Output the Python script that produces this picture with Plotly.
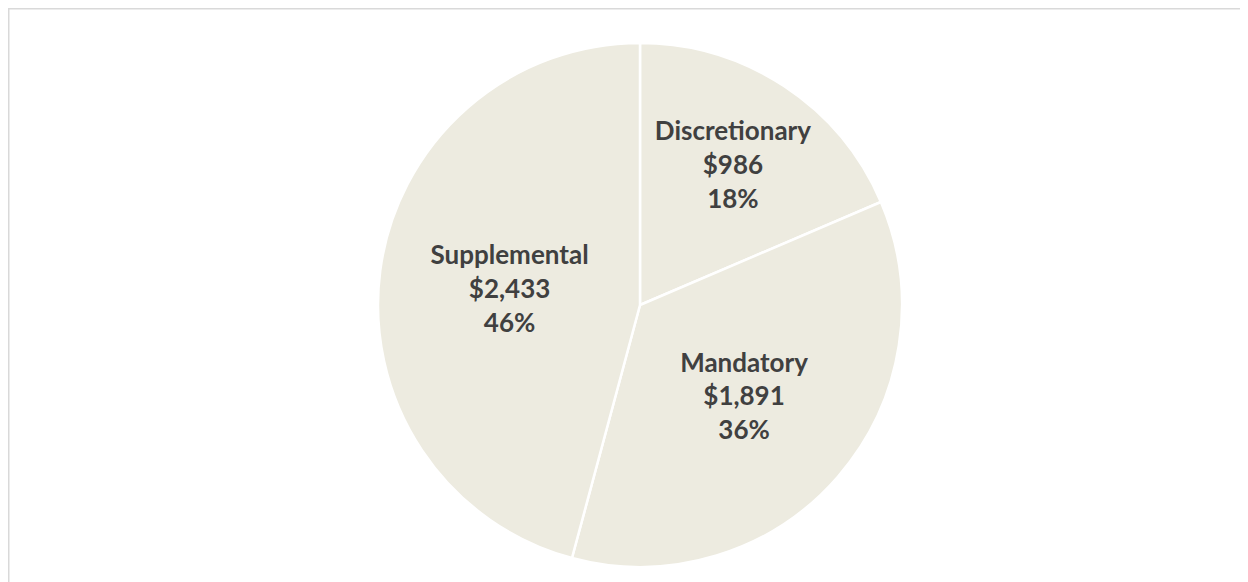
import plotly.graph_objects as go

categories = ["Discretionary", "Mandatory", "Supplemental"]
values = [986, 1891, 2433]
pct_labels = ["18%", "36%", "46%"]

W, H = 1248, 582
# page body margin of 8px shifts everything; compensate
top, bottom = 43 - 8, H - 567 + 8
R = 262
cx = 640 - 8
dom_x0 = (cx - R) / W
dom_x1 = (cx + R) / W
plot_h = H - top - bottom

fig = go.Figure(go.Pie(
    labels=categories,
    values=values,
    customdata=pct_labels,
    sort=False,
    direction="clockwise",
    rotation=0,
    texttemplate="%{label}<br>$%{value:,}<br>%{customdata}",
    textposition="inside",
    insidetextorientation="horizontal",
    textfont=dict(family="Lato", size=26, color="#404040", weight="bold"),
    marker=dict(colors=["#EDEBE0"] * 3, line=dict(color="white", width=2.5)),
    showlegend=False,
    hoverinfo="label+value",
    domain=dict(x=[dom_x0, dom_x1], y=[0, 1]),
))

fig.update_layout(
    width=W, height=H,
    margin=dict(l=0, r=0, t=top, b=bottom),
    paper_bgcolor="white",
    plot_bgcolor="white",
    uniformtext=dict(minsize=26, mode="show"),
    shapes=[dict(type="rect", xref="paper", yref="paper",
                 x0=0.5 / W, x1=1.05, y0=-0.2, y1=1 + (top - 0.5) / plot_h,
                 line=dict(color="#d9d9d9", width=2), layer="below")],
)

fig.write_html("out.html")
